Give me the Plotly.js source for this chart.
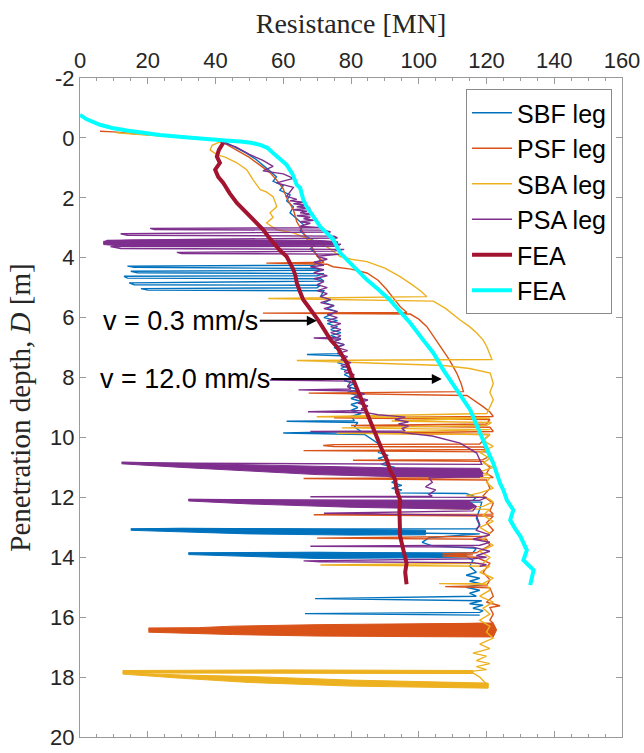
<!DOCTYPE html>
<html>
<head>
<meta charset="utf-8">
<script src="https://cdn.plot.ly/plotly-3.0.1.min.js"></script>
<style>html,body{margin:0;padding:0;background:#fff;}#chart{width:644px;height:753px;}</style>
</head>
<body>
<div id="chart"></div>
<script>
// ---- data (x = resistance [MN], y = penetration depth [m]) ----
const seriesNames = ['SBF leg', 'PSF leg', 'SBA leg', 'PSA leg', 'FEA', 'FEA'];

const sbfPath = [[0.3,-0.72],[4,-0.5],[10,-0.3],[18,-0.16],[26,-0.07],[34,0.0],[40,0.06],[43,0.15],[46,0.32],[49,0.5],[52,0.72],[54,0.9],[56,1.1],[58,1.3],[57,1.45],[60,1.6],[59,1.75],[62,1.9],[61,2.1],[63,2.3],[62,2.5],[64,2.7],[66,2.9],[65,3.1],[67,3.3],[70,3.5],[68,3.7],[70,3.9],[71,4.1],[69,4.25],
[14,4.28],[16,4.32],[70,4.36],[71,4.42],[15,4.45],[17,4.5],[72,4.53],[70,4.6],[13,4.62],[14,4.68],[71,4.7],[72,4.78],[14.5,4.84],[16,4.9],[71,4.92],[70,5.0],[18,5.03],[20,5.08],[72,5.1],
[71,5.3],[74,5.4],[72,5.5],[75,5.6],[73,5.7],[76,5.8],[74,5.9],[72,6.0],[76,6.1],[73,6.2],[76,6.3],[74,6.4],[77,6.5],[74,6.6],[77,6.7],[75,6.8],[78,6.9],[75,7.0],[77,7.1],[76,7.2],[67,7.23],[77,7.27],[78,7.4],[76,7.5],[79,7.6],[77,7.7],[80,7.8],[78,7.9],[80,8.0],[78,8.1],[81,8.2],[79,8.3],[82,8.4],[79,8.5],[82,8.6],[80,8.7],[83,8.8],[80,8.9],[82,9.0],[80,9.1],[83,9.2],[80,9.3],[81,9.44],[61,9.46],[82,9.5],[81,9.65],[83,9.8],[60,9.85],[84,9.9],[86,10.05],[88,10.2],[89,10.4],[88,10.5],[91,10.6],[88,10.7],[91,10.8],[89,10.9],[93,11.0],[90,11.1],[93,11.2],[91,11.3],[94,11.4],[92,11.5],[95,11.6],[92,11.7],[95,11.75],[93,11.85],[114,11.87],[117,12.0],[116,12.1],[88,12.13],[118.6,12.16],[118,12.4],[117,12.7],[118,12.95],[117,13.05],[15,13.06],[102,13.2],[118,13.22],[103,13.35],[101,13.5],[104,13.62],[117,13.7],[116,13.85],[32,13.87],[114,13.97],[116,14.1],[115,14.3],[117,14.5],[114,14.6],[118,14.7],[115,14.8],[119,14.9],[114,15.0],[118,15.1],[115,15.2],[117,15.3],[69.4,15.38],[118.6,15.45],[115,15.55],[119,15.6],[116,15.7],[119,15.78],[118,15.84],[66.4,15.88],[118,15.93]];
const sbfBands = [
  [[15,13.05],[30,13.03],[60,13.05],[90,13.08],[102,13.1],[102,13.25],[80,13.26],[50,13.22],[30,13.15],[15,13.1]],
  [[32,13.85],[50,13.83],[70,13.83],[100,13.86],[114,13.88],[114,13.99],[100,14.02],[70,14.04],[50,13.98],[32,13.91]]
];

const psfPath = [[5.9,-0.22],[10,-0.2],[16,-0.14],[24,-0.07],[32,-0.01],[40,0.05],[43,0.2],[46,0.4],[50,0.65],[53,0.9],[56,1.15],[58,1.4],[60,1.7],[61,2.0],[63,2.4],[64,2.8],[66,3.2],[68,3.6],[70,3.95],[72,4.15],[55,4.18],[73,4.22],[74.7,4.3],[80,4.38],[84.7,4.51],[88,4.75],[90.6,5.07],[92.5,5.35],[94.5,5.63],[96.5,5.83],[54,5.85],[97.5,5.88],[100,6.05],[102.4,6.3],[104.5,6.65],[106.3,6.97],[109,7.4],[111.2,7.85],[112.5,8.2],[113.2,8.47],[67.5,8.52],[114.2,8.6],[117,8.8],[119,8.97],[121,9.15],[122,9.3],[75,9.34],[121,9.4],[120,9.55],[80,9.6],[121,9.66],[122,9.8],[85,9.86],[121,9.9],[119,10.1],[118,10.22],[75,10.24],[71.8,10.27],[75,10.3],[119,10.32],[120,10.4],[66,10.44],[120,10.48],[121,10.62],[119,10.74],[80.6,10.76],[119,10.8],[121,11.0],[120,11.2],[122,11.34],[66,11.37],[120,11.42],[121,11.7],[119,11.95],[122,12.2],[121,12.45],[122,12.56],[69,12.58],[122,12.62],[120,12.85],[122,13.1],[120,13.3],[70,13.36],[120,13.4],[121,13.6],[117,13.85],[107,13.88],[116,13.92],[107,13.96],[117,14.0],[121,14.2],[119,14.5],[121,14.75],[120,14.95],[107.8,14.98],[121,15.02],[122,15.3],[120,15.5],[124,15.62],[121,15.68],[122,15.9],[121,16.1],[122,16.2],[20.2,16.42],[122,16.5],[121,16.6]];
const psfBands = [
  [[20.2,16.36],[35,16.35],[45,16.3],[70,16.25],[100,16.22],[122,16.2],[123,16.42],[122,16.66],[100,16.65],[70,16.63],[45,16.58],[35,16.55],[20.2,16.5]]
];

const sbaPath = [[10.8,-0.17],[16,-0.12],[22,-0.07],[30,-0.01],[37,0.04],[42,0.1],[39,0.25],[38.4,0.4],[40.4,0.56],[43,0.65],[46.3,0.83],[49.2,1.06],[50,1.2],[51.1,1.4],[53.2,1.73],[55,1.8],[57,1.96],[58.1,2.29],[56.1,2.5],[57,2.65],[55.1,2.84],[58.1,3.07],[63,3.17],[66,3.3],[68,3.4],[70,3.5],[72.8,3.63],[75,3.8],[76.8,3.96],[80,4.05],[84.7,4.13],[90,4.35],[94.5,4.63],[98,4.9],[100.5,5.1],[102.4,5.3],[55.6,5.36],[104.3,5.45],[108,5.7],[112.2,6.08],[115,6.3],[117.2,6.52],[119,6.75],[120.1,6.97],[121,7.2],[121.6,7.4],[64,7.43],[107.3,7.6],[115,7.7],[121.1,7.85],[122,8.2],[121,8.5],[122,8.74],[121,9.0],[120.1,9.2],[69.9,9.31],[121,9.35],[92,9.45],[121.5,9.5],[120,9.6],[77.3,9.68],[121,9.74],[75.8,9.86],[121,9.9],[119,10.1],[122,10.3],[118,10.5],[121,10.7],[119,10.85],[122,11.0],[118,11.15],[121,11.25],[93.5,11.3],[121,11.34],[120,11.5],[122,11.7],[118,11.85],[114,11.95],[120,12.0],[122,12.15],[119,12.3],[99.4,12.36],[121,12.4],[119,12.6],[122,12.8],[118,13.0],[121,13.2],[119,13.4],[122,13.6],[118,13.8],[121,14.0],[119,14.2],[71,14.26],[121,14.3],[118,14.5],[122,14.7],[119,14.87],[106,14.88],[120,14.9],[121,15.1],[118,15.3],[122,15.5],[119,15.7],[121,15.9],[118,16.1],[121,16.3],[120,16.5],[122,16.7],[118,16.9],[121,17.05],[116,17.2],[120,17.3],[117,17.45],[121,17.55],[117,17.65],[120,17.75],[116,17.8],[12.6,17.83],[60,17.85],[116,17.86],[118,18.0],[120.5,18.3]];
const sbaBands = [
  [[12.6,17.78],[60,17.76],[116,17.78],[116,17.88],[60,17.87],[25,17.86],[12.6,17.86]],
  [[12.6,17.86],[30,17.93],[50,17.98],[80,18.1],[120.5,18.2],[120.5,18.37],[80,18.3],[50,18.18],[30,18.04],[12.6,17.9]]
];

const psaPath = [[0.3,-0.74],[4,-0.52],[10,-0.32],[18,-0.17],[26,-0.08],[34,-0.01],[40,0.05],[42,0.16],[46,0.3],[50,0.55],[54,0.75],[57,0.95],[54,1.1],[60,1.2],[63,1.35],[58,1.5],[63,1.65],[61,1.95],[64,2.05],[62,2.1],[66,2.15],[63,2.2],[67,2.25],[64,2.3],[68,2.35],[63,2.4],[67,2.45],[65,2.5],[69,2.55],[64,2.6],[68,2.65],[66,2.7],[69,2.75],[65,2.8],[68,2.85],[65,2.95],[71,3.0],[20.7,3.02],[22,3.06],[72,3.08],[74,3.14],[12,3.2],[14,3.25],[75,3.28],[76,3.34],[8,3.42],[6.9,3.51],[10,3.57],[77,3.55],[76,3.62],[9,3.63],[12,3.69],[78,3.72],[75,3.78],[28.6,3.82],[30,3.86],[77,3.88],[70,3.95],[73,4.05],[69,4.15],[72,4.25],[68,4.3],[72,4.4],[69,4.5],[73,4.6],[69,4.7],[72,4.8],[70,4.9],[73,5.0],[70,5.1],[73,5.2],[71,5.3],[74,5.4],[71,5.5],[75,5.6],[72,5.7],[76,5.8],[73,5.9],[76,6.0],[73,6.1],[77,6.2],[74,6.3],[77,6.4],[74,6.5],[77,6.6],[76,6.66],[69,6.68],[77,6.72],[75,6.8],[78,6.9],[76,7.0],[79,7.1],[76,7.2],[79,7.3],[77,7.4],[80,7.5],[77,7.6],[80,7.7],[78,7.8],[81,7.9],[79,8.04],[56,8.08],[80,8.12],[79,8.3],[80,8.38],[64.5,8.41],[81,8.45],[84,8.55],[81,8.65],[85,8.75],[82,8.85],[85,8.95],[83,9.05],[84,9.1],[67.3,9.14],[85,9.18],[88,9.24],[92,9.28],[96,9.32],[93,9.4],[97,9.48],[94,9.55],[97,9.62],[95,9.7],[96,9.78],[68,9.8],[94.5,9.83],[104,9.95],[112.2,10.19],[117.1,10.52],[118.6,10.9],[12.3,10.85],[118,11.15],[119,11.3],[103,11.35],[104,11.5],[102,11.65],[105,11.75],[103,11.9],[104,11.96],[68,11.98],[120,12.0],[118,12.1],[32,12.08],[117,12.3],[116,12.45],[72,12.53],[117,12.6],[118,12.9],[117,13.1],[121,13.25],[116,13.4],[121,13.5],[118,13.6],[68,13.63],[116,13.66],[121,13.8],[117,13.95],[120,14.0],[116,14.05],[66,14.12],[71,14.15],[116,14.18],[120,14.25],[118,14.3]];
const psaBands = [
  [[6.9,3.45],[15,3.41],[40,3.4],[70,3.42],[76,3.46],[76,3.58],[40,3.6],[15,3.63],[6.9,3.56]],
  [[12.3,10.82],[30,10.86],[50,10.92],[70,10.97],[90,11.01],[118,11.03],[119,11.2],[118,11.33],[90,11.3],[70,11.24],[50,11.13],[30,11.0],[12.3,10.88]],
  [[32,12.06],[50,12.08],[80,12.11],[115,12.14],[117,12.3],[115,12.4],[80,12.33],[50,12.22],[32,12.12]]
];

const feaSlowX = [42.3,41.0,40.4,41.3,39.9,40.8,42.3,44.2,46.3,48.3,50.2,52.2,54.1,55.6,57.0,59.0,61.0,62.2,63.0,63.6,64.0,65.0,65.9,67.4,68.9,70.4,71.8,72.8,74.0,75.8,77.2,78.8,79.7,80.7,82.1,83.2,84.6,86.1,87.2,88.1,89.3,90.6,91.5,93.0,93.5,94.5,94.3,94.5,95.4,96.4,96.0,96.4];
const feaSlowY = [0.16,0.4,0.62,0.83,1.06,1.3,1.5,1.85,2.17,2.4,2.62,2.85,3.07,3.3,3.5,3.75,3.96,4.2,4.4,4.6,4.84,5.15,5.4,5.63,5.84,6.1,6.35,6.55,6.75,6.97,7.25,7.52,7.8,8.08,8.45,8.75,9.2,9.64,9.9,10.19,10.45,10.75,11.09,11.4,11.76,12.09,12.42,13.3,13.76,14.2,14.5,14.9];
const feaFastX = [0,2,5.9,9.5,13.8,18.5,23.6,31,38.4,43,47.3,50.5,53.2,55.3,57,59,61,62.7,64,65,65.9,66.9,68.8,70.9,72.8,74.8,76.8,79.7,82.7,84.7,88,91.5,94.5,97.5,101,104.3,107.3,111.2,115.2,118.1,120.5,121.1,122,124,125,126,127.9,127,128.5,130,131.9,130.9,133.9,133.4,132.9];
const feaFastY = [-0.77,-0.62,-0.44,-0.33,-0.25,-0.17,-0.1,-0.02,0.06,0.09,0.12,0.16,0.23,0.33,0.5,0.7,0.9,1.2,1.57,1.67,2.06,2.29,2.62,2.96,3.17,3.4,3.84,4.18,4.5,4.74,5.05,5.41,5.8,6.18,6.7,7.18,7.75,8.42,9.08,9.85,10.42,10.64,10.86,11.53,11.76,12.09,12.42,12.76,13.05,13.3,13.76,14.1,14.43,14.65,14.93];

const xTicks = [0,20,40,60,80,100,120,140,160];
const yTicks = [-2,0,2,4,6,8,10,12,14,16,18,20];
const yTickText = ['-2','0','2','4','6','8','10','12','14','16','18','20'];
const notes = [
  {text: 'v = 0.3 mm/s', x: 69.9, y: 6.1},
  {text: 'v = 12.0 mm/s', x: 106.8, y: 8.05}
];

// ---- styles ----
const colors = ['#0072BD', '#D95319', '#EDB120', '#7E2F8E', '#A2142F', '#00FFFF'];
const sans = '"Liberation Sans", Arial, Helvetica, sans-serif';
const serif = '"Liberation Serif", "Times New Roman", serif';

function pathTrace(path, name, color, group) {
  return {x: path.map(p => p[0]), y: path.map(p => p[1]), type: 'scatter', mode: 'lines',
    name: name, legendgroup: group, line: {color: color, width: 1.4}};
}
function bandTraces(bands, color, group) {
  const xs = [], ys = [];
  bands.forEach((b, i) => { if (i) { xs.push(null); ys.push(null); } b.forEach(p => { xs.push(p[0]); ys.push(p[1]); }); });
  return {x: xs, y: ys, type: 'scatter', mode: 'lines', fill: 'toself', fillcolor: color,
    line: {color: color, width: 1}, showlegend: false, legendgroup: group, hoverinfo: 'skip'};
}

const traces = [
  pathTrace(sbfPath, seriesNames[0], colors[0], 'g0'), bandTraces(sbfBands, colors[0], 'g0'),
  pathTrace(psfPath, seriesNames[1], colors[1], 'g1'), bandTraces(psfBands, colors[1], 'g1'),
  pathTrace(sbaPath, seriesNames[2], colors[2], 'g2'), bandTraces(sbaBands, colors[2], 'g2'),
  pathTrace(psaPath, seriesNames[3], colors[3], 'g3'), bandTraces(psaBands, colors[3], 'g3'),
  {x: feaSlowX, y: feaSlowY, type: 'scatter', mode: 'lines', name: seriesNames[4], line: {color: colors[4], width: 4}},
  {x: feaFastX, y: feaFastY, type: 'scatter', mode: 'lines', name: seriesNames[5], line: {color: colors[5], width: 4}}
];

const axisColor = '#9a9a9a';
const layout = {
  width: 644, height: 753,
  margin: {l: 80, r: 22, t: 78, b: 16, pad: 0},
  paper_bgcolor: '#fff', plot_bgcolor: '#fff',
  showlegend: true,
  font: {family: sans, color: '#262626'},
  xaxis: {
    range: [0, 160], side: 'top', tickvals: xTicks, ticks: 'inside', ticklen: 6, tickwidth: 1,
    tickcolor: axisColor, showline: true, linecolor: axisColor, linewidth: 1, mirror: 'ticks',
    showgrid: false, zeroline: false, tickfont: {size: 22, family: sans, color: '#262626'},
    minor: {dtick: 5, ticks: 'inside', ticklen: 3, tickcolor: axisColor, showgrid: false},
    title: {text: 'Resistance [MN]', font: {family: serif, size: 28, color: '#262626'}, standoff: 6}
  },
  yaxis: {
    range: [20, -2], tickvals: yTicks, ticktext: yTickText, ticks: 'inside', ticklen: 6, tickwidth: 1,
    tickcolor: axisColor, showline: true, linecolor: axisColor, linewidth: 1, mirror: 'ticks',
    showgrid: false, zeroline: false, tickfont: {size: 22, family: sans, color: '#262626'},
    title: {text: 'Penetration depth, <i>D</i> [m]', font: {family: serif, size: 29, color: '#262626'}, standoff: 10}
  },
  legend: {
    x: 0.9816, y: 0.9833, xanchor: 'right', yanchor: 'top', bgcolor: '#fff',
    bordercolor: '#8a8a8a', borderwidth: 1, font: {family: sans, size: 25, color: '#000'},
    tracegroupgap: 0, itemwidth: 40
  },
  annotations: notes.map((n, i) => ({
    x: n.x, y: n.y, xref: 'x', yref: 'y', text: n.text, showarrow: true,
    arrowhead: 2, arrowsize: 1, arrowwidth: 2, arrowcolor: '#000',
    ax: i === 0 ? -136 : -257, ay: 0, font: {family: sans, size: 27, color: '#000'}
  }))
};

Plotly.newPlot('chart', traces, layout, {staticPlot: true, displayModeBar: false});
</script>
</body>
</html>
